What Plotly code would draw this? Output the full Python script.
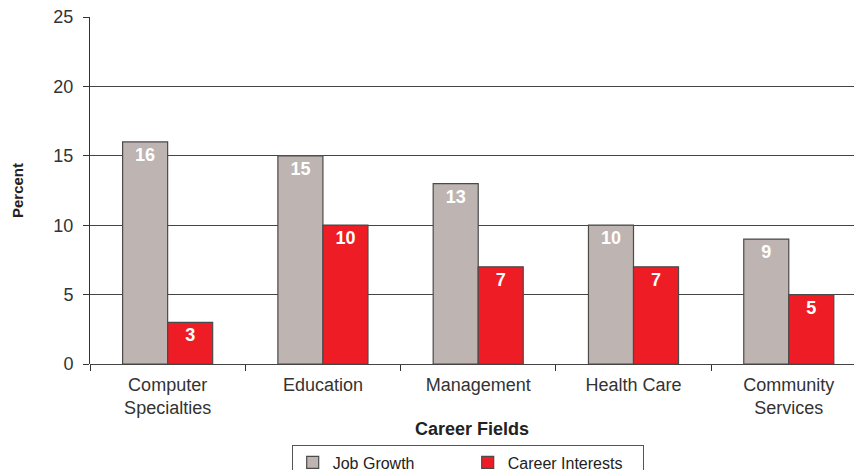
import plotly.graph_objects as go

categories = ["Computer<br>Specialties", "Education", "Management", "Health Care", "Community<br>Services"]
job_growth = [16, 15, 13, 10, 9]
career_interests = [3, 10, 7, 7, 5]

font = "Liberation Sans, Arial, Helvetica, sans-serif"

fig = go.Figure()
fig.add_trace(go.Bar(
    x=categories, y=job_growth, name="Job Growth",
    marker=dict(color="#BEB5B2", line=dict(color="#4a4a4a", width=1.2)),
    text=job_growth, textposition="inside", insidetextanchor="end",
    textfont=dict(color="white", size=18, family=font, weight="bold"),
))
fig.add_trace(go.Bar(
    x=categories, y=career_interests, name="Career Interests",
    marker=dict(color="#EE1D25", line=dict(color="#4a4a4a", width=1.2)),
    text=career_interests, textposition="inside", insidetextanchor="end",
    textfont=dict(color="white", size=18, family=font, weight="bold"),
))

fig.update_layout(
    width=854, height=470,
    margin=dict(l=90, r=0, t=17, b=106, autoexpand=False),
    paper_bgcolor="white", plot_bgcolor="white",
    barmode="group", bargap=0.42, bargroupgap=0,
    font=dict(family=font, size=18, color="#333333"),
    uniformtext=dict(mode="show", minsize=18),
    xaxis=dict(
        range=[-0.5, 4.42], tickson="boundaries", ticks="outside", ticklen=6,
        tickcolor="#333333", showline=False, showgrid=False, automargin=False,
        tickfont=dict(size=18, color="#333333"), ticklabelstandoff=8,
        title=dict(text="<b>Career Fields</b>", font=dict(size=18, color="#222222"), standoff=4),
    ),
    yaxis=dict(
        range=[0, 25], dtick=5, ticks="outside", ticklen=6, tickcolor="#333333",
        showline=True, linecolor="#333333", linewidth=1, automargin=False,
        showgrid=True, gridcolor="#444444", gridwidth=1,
        zeroline=True, zerolinecolor="#444444", zerolinewidth=1,
        tickfont=dict(size=18, color="#333333"), ticklabelstandoff=6,
        title=dict(text="<b>Percent</b>", font=dict(size=15, color="#222222"), standoff=26),
    ),
    legend=dict(
        orientation="h", x=0.264, xanchor="left", y=-0.232, yanchor="top",
        bordercolor="#555555", borderwidth=1, bgcolor="white",
        font=dict(size=16, color="#222222"), traceorder="normal",
        entrywidth=130, itemwidth=30, tracegroupgap=0,
    ),
)

fig.write_html("out.html", config={"displayModeBar": False})

# remove the default browser body margin so the figure sits at the page origin
with open("out.html", "r", encoding="utf-8") as f:
    html = f.read()
html = html.replace("<body>", '<body style="margin:0;padding:0;overflow:hidden">', 1)
with open("out.html", "w", encoding="utf-8") as f:
    f.write(html)
